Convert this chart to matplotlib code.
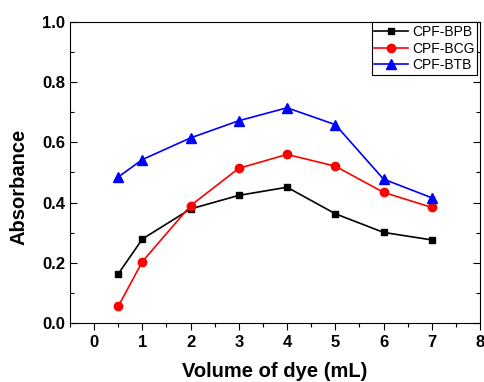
import numpy as np
import matplotlib
matplotlib.use('Agg')
import matplotlib.pyplot as plt
from matplotlib.ticker import MultipleLocator

# data
volume = [0.5, 1, 2, 3, 4, 5, 6, 7]
bpb = [0.163, 0.279, 0.379, 0.424, 0.451, 0.363, 0.301, 0.276]
bcg = [0.055, 0.204, 0.390, 0.514, 0.560, 0.521, 0.434, 0.384]
btb = [0.485, 0.543, 0.615, 0.672, 0.715, 0.659, 0.478, 0.416]

plt.rcParams['font.family'] = ['Liberation Sans', 'DejaVu Sans']

fig = plt.figure(figsize=(4.84, 3.82), dpi=100)
ax = fig.add_axes([70 / 484, 1 - 323 / 382, 410 / 484, 301 / 382])

ax.plot(volume, bpb, color='black', marker='s', markersize=5, lw=1.2, label='CPF-BPB')
ax.plot(volume, bcg, color='red', marker='o', markersize=6, lw=1.2, label='CPF-BCG')
ax.plot(volume, btb, color='blue', marker='^', markersize=6.5, lw=1.2, label='CPF-BTB')

ax.set_xlim(-0.5, 8)
ax.set_ylim(0, 1.0)
ax.xaxis.set_major_locator(MultipleLocator(1))
ax.xaxis.set_minor_locator(MultipleLocator(0.5))
ax.yaxis.set_minor_locator(MultipleLocator(0.1))
ax.set_yticks([0, 0.2, 0.4, 0.6, 0.8, 1.0])
ax.set_yticklabels(['0.0', '0.2', '0.4', '0.6', '0.8', '1.0'])

ax.tick_params(axis='x', which='both', direction='out', top=False)
ax.tick_params(axis='y', which='both', direction='in', right=True)
ax.tick_params(which='major', length=5, width=0.8)
ax.tick_params(which='minor', length=3, width=0.8)
ax.tick_params(labelsize=12)
for lab in ax.get_xticklabels() + ax.get_yticklabels():
    lab.set_fontweight('bold')

ax.set_xlabel('Volume of dye (mL)', fontsize=14.5, fontweight='bold', labelpad=9)
ax.set_ylabel('Absorbance', fontsize=14.5, fontweight='bold')
ax.yaxis.set_label_coords(-0.102, 0.452)

leg = ax.legend(loc='upper right', bbox_to_anchor=(0.993, 1.0), fontsize=10,
                frameon=True, fancybox=False, edgecolor='black', framealpha=1,
                handlelength=2.4, borderpad=0.2, labelspacing=0.2,
                handletextpad=0.3, borderaxespad=0)
leg.get_frame().set_linewidth(0.8)

fig.savefig('out.png', dpi=100)
